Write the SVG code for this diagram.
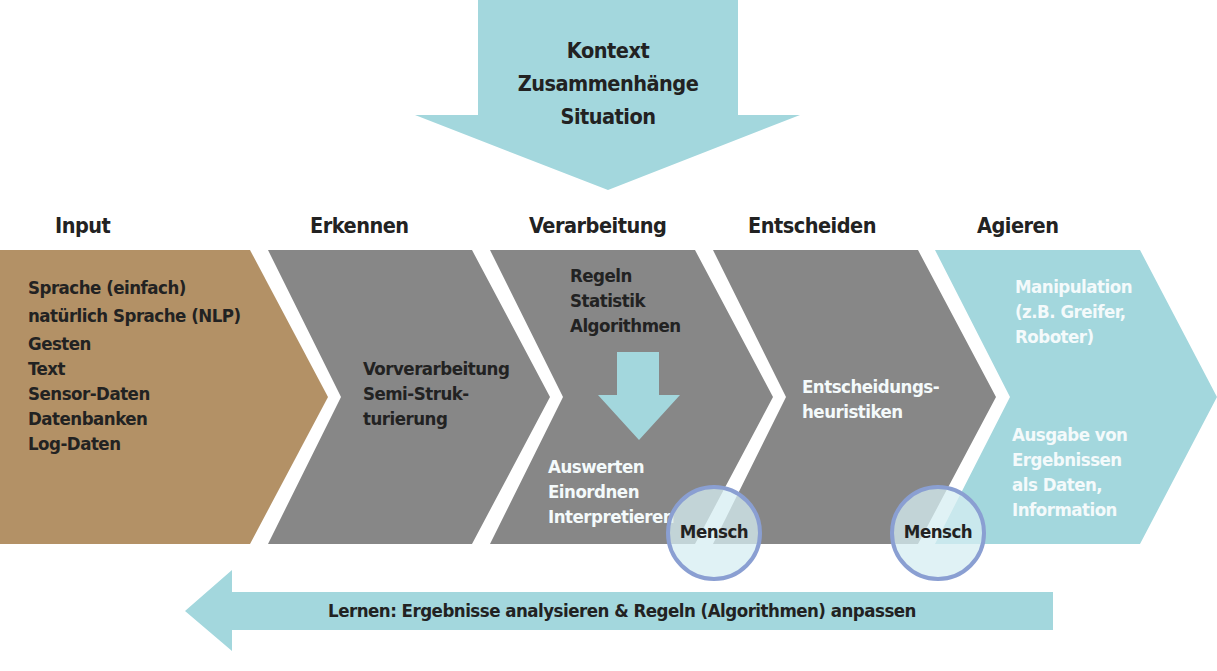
<svg xmlns="http://www.w3.org/2000/svg" width="1217" height="671" viewBox="0 0 1217 671">
<style>
text{font-family:"DejaVu Sans Condensed","DejaVu Sans",sans-serif;font-stretch:condensed;font-weight:bold;font-size:18.5px;letter-spacing:-0.5px;fill:#222}
.h{font-size:21.5px}
.w{fill:#f4fafb}
.teal{fill:#a3d7dd}
.gray{fill:#878787}
.circ{fill:#d6eef2;fill-opacity:0.75;stroke:#8a9fd2;stroke-width:4}
</style>
<rect width="1217" height="671" fill="#fff"/>
<g id="kontext">
<polygon class="teal" points="478,0 738,0 738,115 800,115 608,190 415,115 478,115"/>
<text class="h" x="608" y="58" text-anchor="middle">Kontext</text>
<text class="h" x="608" y="91" text-anchor="middle">Zusammenhänge</text>
<text class="h" x="608" y="124" text-anchor="middle">Situation</text>
</g>
<g id="headers">
<text class="h" x="55" y="233">Input</text>
<text class="h" x="310" y="233">Erkennen</text>
<text class="h" x="529" y="233">Verarbeitung</text>
<text class="h" x="748" y="233">Entscheiden</text>
<text class="h" x="977" y="233">Agieren</text>
</g>
<g id="input">
<polygon fill="#b39166" points="0,250 250,250 328,397 250,544 0,544"/>
<text x="28" y="294">Sprache (einfach)</text>
<text x="28" y="322">natürlich Sprache (NLP)</text>
<text x="28" y="350">Gesten</text>
<text x="28" y="375">Text</text>
<text x="28" y="400">Sensor-Daten</text>
<text x="28" y="425">Datenbanken</text>
<text x="28" y="450">Log-Daten</text>
</g>
<g id="erkennen">
<polygon class="gray" points="268,250 472,250 550,397 472,544 268,544 341,397"/>
<text x="363" y="375">Vorverarbeitung</text>
<text x="363" y="400">Semi-Struk-</text>
<text x="363" y="425">turierung</text>
</g>
<g id="verarbeitung">
<polygon class="gray" points="490,250 695,250 773,397 695,544 490,544 563,397"/>
<text x="570" y="282">Regeln</text>
<text x="570" y="307">Statistik</text>
<text x="570" y="332">Algorithmen</text>
<polygon class="teal" points="617,352 659,352 659,395 680,395 639,440 598,395 617,395"/>
<text class="w" x="548" y="473">Auswerten</text>
<text class="w" x="548" y="498">Einordnen</text>
<text class="w" x="548" y="523">Interpretieren</text>
</g>
<g id="entscheiden">
<polygon class="gray" points="713,250 918,250 996,397 918,544 713,544 786,397"/>
<text class="w" x="802" y="393">Entscheidungs-</text>
<text class="w" x="802" y="418">heuristiken</text>
</g>
<g id="agieren">
<polygon class="teal" points="935,250 1140,250 1217,397 1140,544 935,544 1010,397"/>
<text class="w" x="1015" y="293">Manipulation</text>
<text class="w" x="1015" y="318">(z.B. Greifer,</text>
<text class="w" x="1015" y="343">Roboter)</text>
<text class="w" x="1012" y="441">Ausgabe von</text>
<text class="w" x="1012" y="466">Ergebnissen</text>
<text class="w" x="1012" y="491">als Daten,</text>
<text class="w" x="1012" y="516">Information</text>
</g>
<g id="mensch1">
<circle class="circ" cx="714" cy="533" r="46"/>
<text x="714" y="538" text-anchor="middle">Mensch</text>
</g>
<g id="mensch2">
<circle class="circ" cx="938" cy="533" r="46"/>
<text x="938" y="538" text-anchor="middle">Mensch</text>
</g>
<g id="connectors">
<g id="lernen">
<polygon class="teal" points="232,570 232,592 1053,592 1053,630 232,630 232,651 185,611"/>
<text x="622" y="617" text-anchor="middle">Lernen: Ergebnisse analysieren &amp; Regeln (Algorithmen) anpassen</text>
</g>
</g>
</svg>
